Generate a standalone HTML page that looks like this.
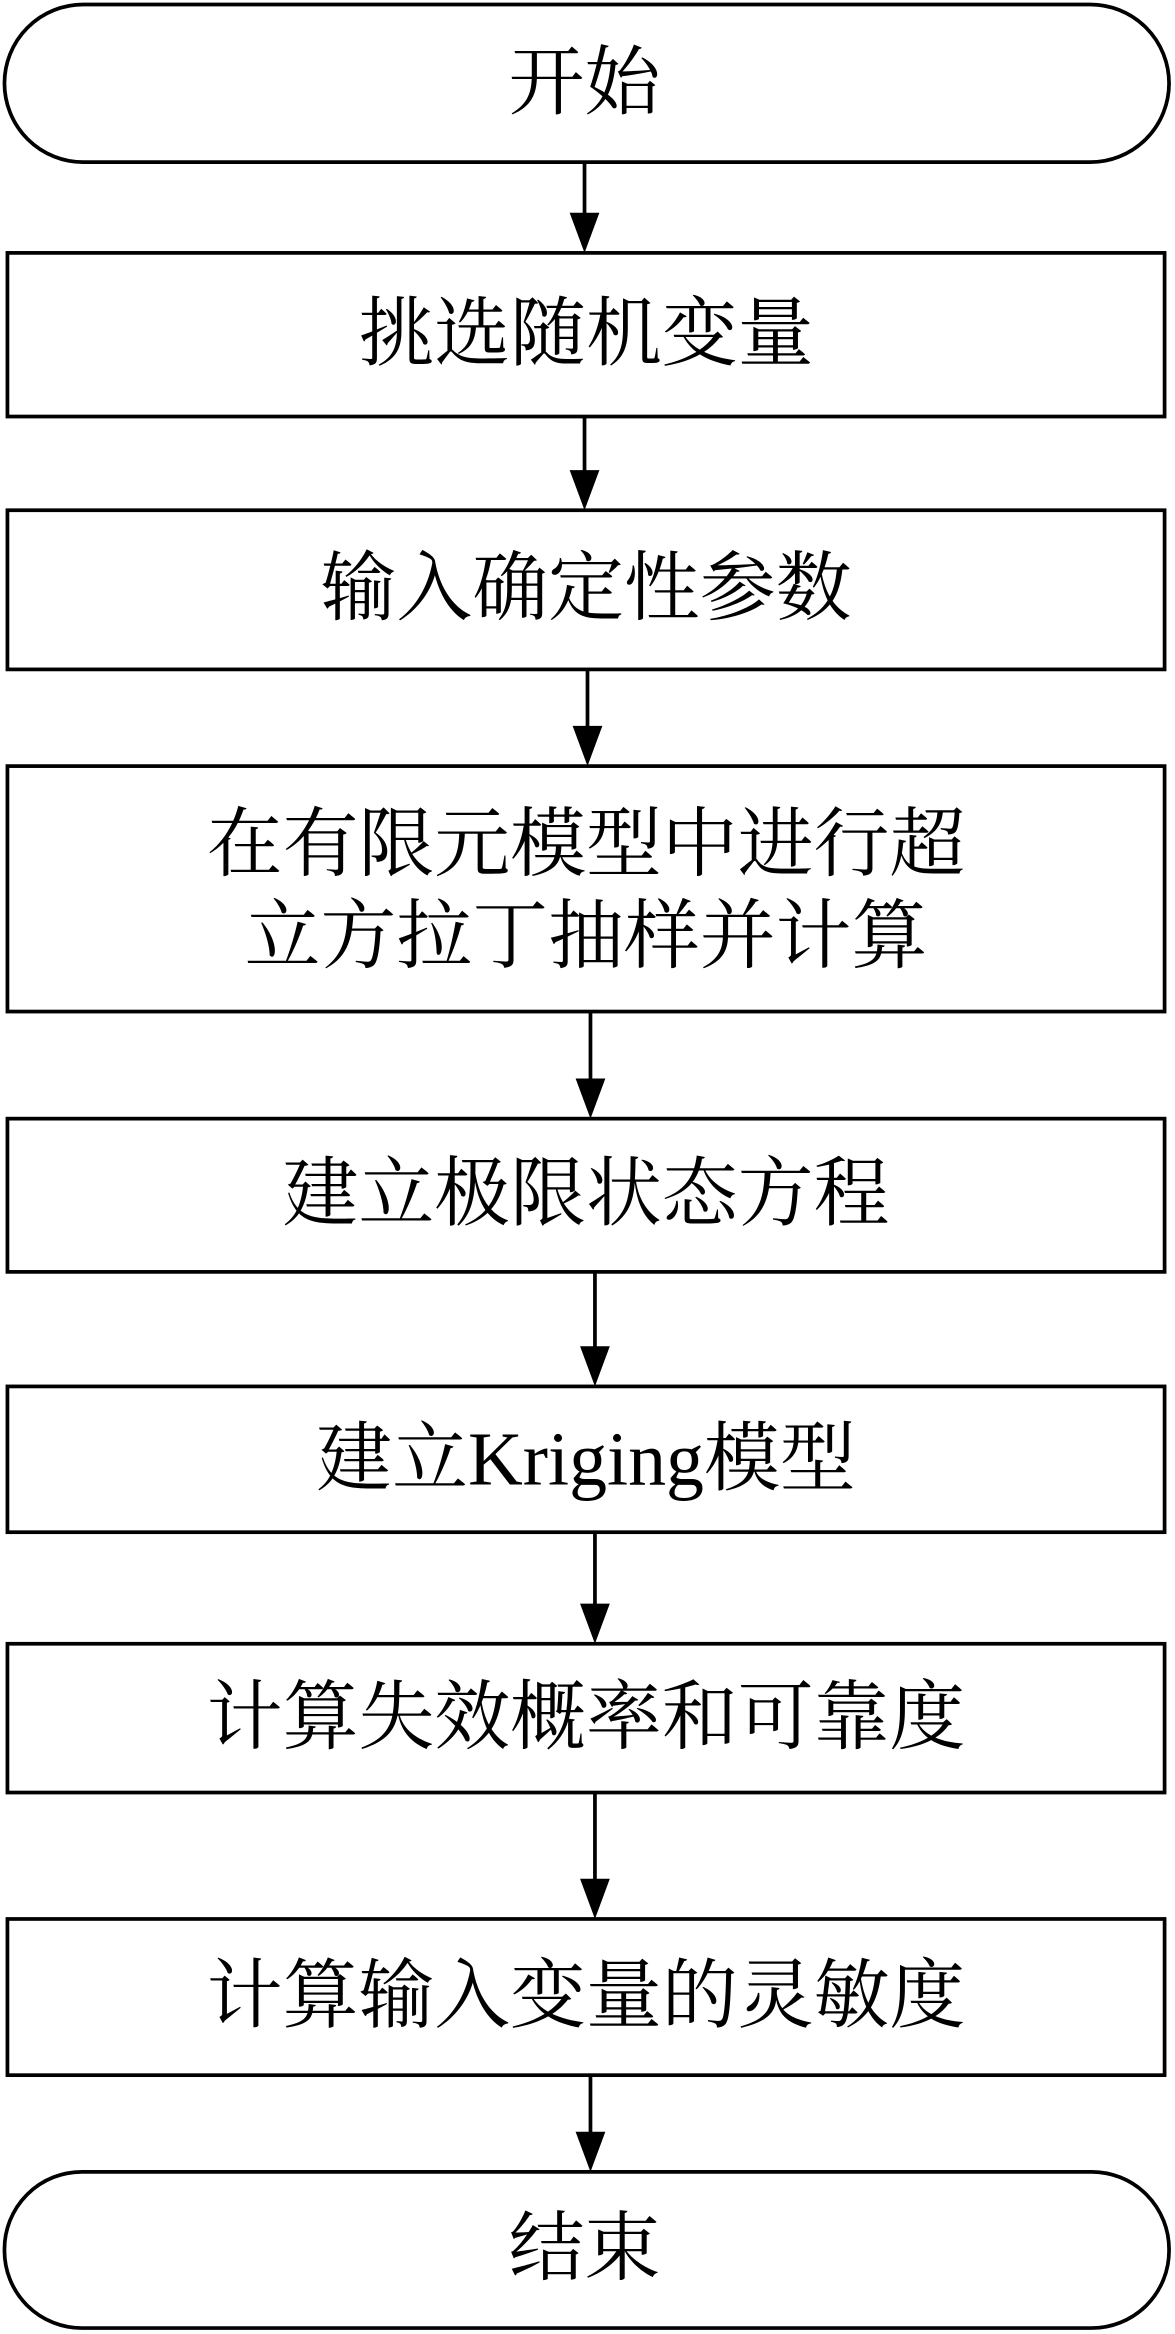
<!DOCTYPE html>
<html><head><meta charset="utf-8">
<style>
html,body{margin:0;padding:0;background:#fff;}
svg{display:block;}
text{font-family:"Liberation Serif","Noto Serif CJK SC",serif;font-size:51px;fill:#000;text-anchor:middle;dominant-baseline:central;}
</style></head>
<body>
<svg width="1175" height="2334" viewBox="0 0 790 1569" preserveAspectRatio="none" xmlns="http://www.w3.org/2000/svg">
<g fill="none" stroke="#000" stroke-width="2.5">
<rect x="3" y="3" width="783" height="106" rx="53" ry="53"/>
<rect x="5" y="170" width="778" height="110"/>
<rect x="5" y="343" width="778" height="107"/>
<rect x="5" y="515" width="778" height="165"/>
<rect x="5" y="752" width="778" height="103"/>
<rect x="5" y="932" width="778" height="98"/>
<rect x="5" y="1105" width="778" height="100"/>
<rect x="5" y="1290" width="778" height="105"/>
<rect x="3" y="1460" width="783" height="105" rx="52" ry="52"/>
<line x1="393" y1="109" x2="393" y2="145"/>
<line x1="393" y1="280" x2="393" y2="318"/>
<line x1="395" y1="450" x2="395" y2="490"/>
<line x1="397" y1="680" x2="397" y2="727"/>
<line x1="400" y1="855" x2="400" y2="907"/>
<line x1="400" y1="1030" x2="400" y2="1080"/>
<line x1="400" y1="1205" x2="400" y2="1265"/>
<line x1="397" y1="1395" x2="397" y2="1435"/>
</g>
<g fill="#000">
<polygon points="383,143 403,143 393,170"/>
<polygon points="383,316 403,316 393,343"/>
<polygon points="385,488 405,488 395,515"/>
<polygon points="387,725 407,725 397,752"/>
<polygon points="390,905 410,905 400,932"/>
<polygon points="390,1078 410,1078 400,1105"/>
<polygon points="390,1263 410,1263 400,1290"/>
<polygon points="387,1433 407,1433 397,1460"/>
</g>
<text x="393" y="56">开始</text>
<text x="394" y="225">挑选随机变量</text>
<text x="394" y="396">输入确定性参数</text>
<text x="394" y="568">在有限元模型中进行超</text>
<text x="394" y="630">立方拉丁抽样并计算</text>
<text x="394" y="803">建立极限状态方程</text>
<text x="394" y="981">建立Kriging模型</text>
<text x="394" y="1155">计算失效概率和可靠度</text>
<text x="394" y="1342">计算输入变量的灵敏度</text>
<text x="393" y="1512">结束</text>
</svg>
</body></html>
